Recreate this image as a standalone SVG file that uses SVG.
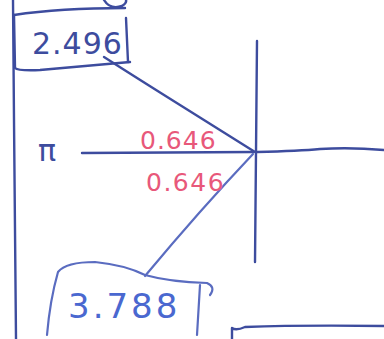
<svg xmlns="http://www.w3.org/2000/svg" width="384" height="339" viewBox="0 0 384 339">
<style>
.ln{fill:none;stroke:#3d4c9e;stroke-width:2.4;stroke-linecap:round;stroke-linejoin:round}
.lt{fill:none;stroke:#5a6cc0;stroke-width:2.2;stroke-linecap:round;stroke-linejoin:round}
.val{font-family:"DejaVu Sans","Liberation Sans",sans-serif;fill:#3d4c9e}
.red{font-family:"DejaVu Sans","Liberation Sans",sans-serif;fill:#e8587a;font-size:25px}
</style>
<rect width="384" height="339" fill="#fff"/>
<g id="frame">
<path class="ln" d="M13,0 L14,120 L15,230 L16,339"/>
<path class="ln" d="M104,0 Q110,10 122,6 Q127,3 126,0"/>
</g>
<g id="connectors">
<path class="ln" d="M104,57 Q140,80 180,105 Q220,130 255,152"/>
<path class="ln" d="M82,153 L253,152"/>
<path class="ln" d="M257,152 Q300,151 320,149 Q350,147 384,150"/>
<path class="ln" d="M257,41 L256,152 L255,262"/>
<path class="lt" d="M253,154 Q200,210 145,276"/>
</g>
<g id="node-2496">
<path class="ln" d="M14,15 Q60,8 125,8"/>
<path class="ln" d="M14,15 L15,68 Q18,71 40,70 L130,62"/>
<path class="ln" d="M126,18 L128,62"/>
<text class="val" x="32" y="54" font-size="30" letter-spacing="1">2.496</text>
</g>
<g id="node-pi">
<text class="val" x="38" y="161" font-size="30">π</text>
</g>
<g id="label-top">
<text class="red" x="140" y="149" letter-spacing="1">0.646</text>
</g>
<g id="label-bottom">
<text class="red" x="146" y="191" letter-spacing="1.5">0.646</text>
</g>
<g id="node-3788">
<path class="lt" d="M47,335 Q50,300 58,272 Q66,262 95,262 Q125,265 145,275 Q170,282 207,283 Q216,287 210,295"/>
<path class="lt" d="M200,285 L197,335"/>
<text x="68" y="318" font-size="34" letter-spacing="3" font-family="DejaVu Sans,Liberation Sans,sans-serif" fill="#4a68d0">3.788</text>
</g>
<g id="node-bottom-right">
<path class="ln" d="M232,339 L232,328 Q236,331 245,327 Q300,325 384,326"/>
</g>
</svg>
